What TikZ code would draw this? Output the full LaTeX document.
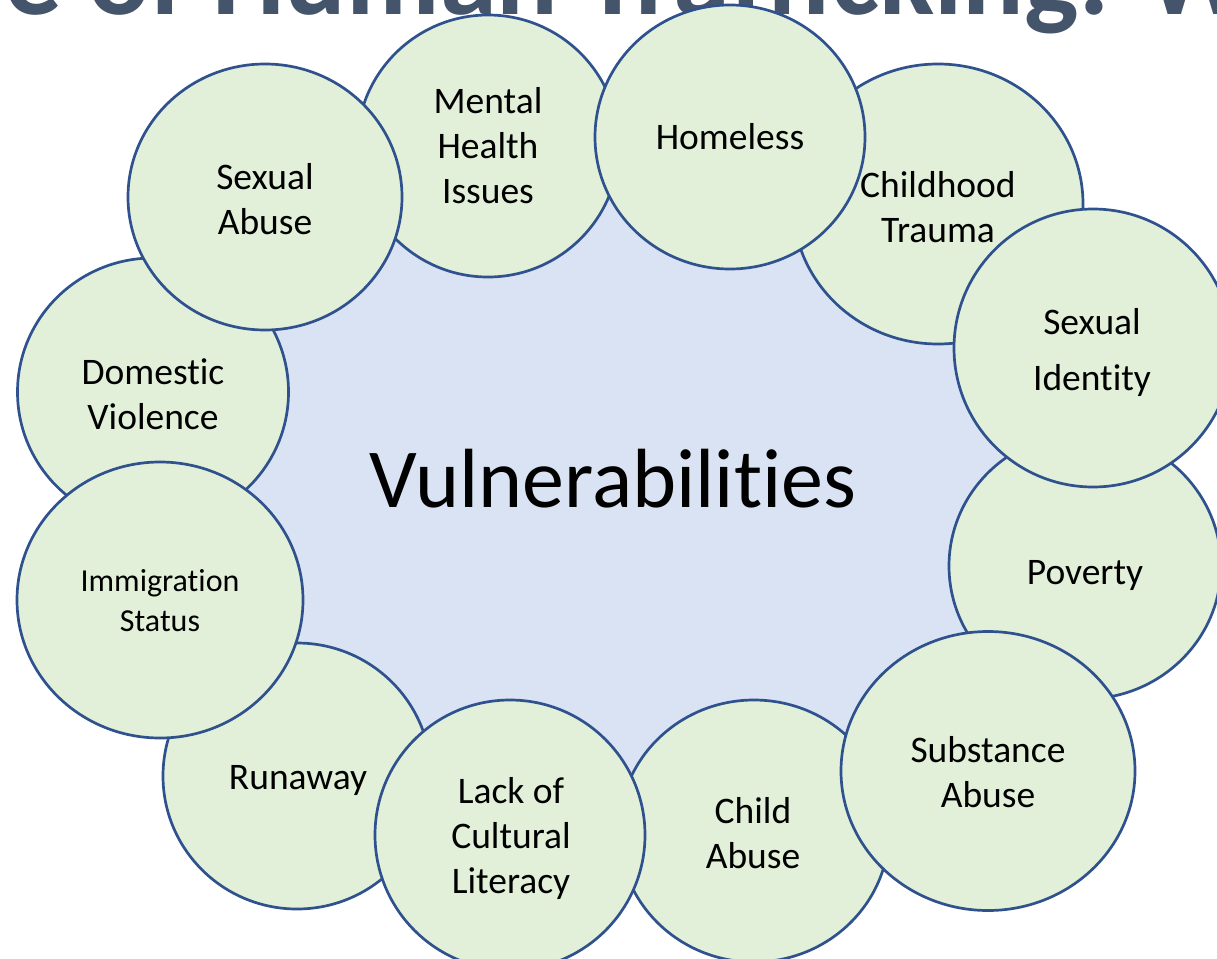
\documentclass[tikz,border=0pt]{standalone}
\usepackage{fontspec}
\setmainfont{Carlito}[Ligatures=NoCommon]
\usetikzlibrary{shapes.geometric}
\definecolor{ringline}{HTML}{2F528F}
\definecolor{ringfill}{HTML}{E2F0D9}
\definecolor{corefill}{HTML}{DAE3F3}
\definecolor{titlecol}{HTML}{44546A}
\begin{document}
\begin{tikzpicture}[x=1pt,y=-1pt,
  bubble/.style={ellipse, draw=ringline, line width=2.7pt, fill=ringfill, inner sep=0pt},
  lbl/.style={align=center, inner sep=0pt, font=\fontsize{37.5}{45}\selectfont},
  core/.style={ellipse, fill=corefill, inner sep=0pt},
  titletext/.style={font=\bfseries\fontsize{115}{120}\selectfont, text=titlecol, inner sep=0pt, anchor=base west}
]
\useasboundingbox (0,0) rectangle (1217,958);
\clip (0,0) rectangle (1217,958);
\fill[white] (0,0) rectangle (1217,958);

\node[titletext] (title) at (4,15) {e of Human Trafficking: What};

\node[core, minimum width=840pt, minimum height=640pt] (center) at (612,480) {};

% back ring
\node[bubble, minimum width=262pt, minimum height=262pt] (mental) at (488,146) {};
\node[bubble, minimum width=290pt, minimum height=280pt] (trauma) at (938,204) {};
\node[bubble, minimum width=272pt, minimum height=266pt] (poverty) at (1085,566) {};
\node[bubble, minimum width=270pt, minimum height=262pt] (child) at (754,831) {};
\node[bubble, minimum width=268pt, minimum height=266pt] (runaway) at (297,776) {};
\node[bubble, minimum width=271pt, minimum height=268pt] (domestic) at (153,392) {};

% front ring
\node[bubble, minimum width=274pt, minimum height=266pt] (sexabuse) at (265,197) {};
\node[bubble, minimum width=270pt, minimum height=264pt] (homeless) at (730,137) {};
\node[bubble, minimum width=278pt, minimum height=278pt] (identity) at (1093,348) {};
\node[bubble, minimum width=294pt, minimum height=279pt] (substance) at (988,771) {};
\node[bubble, minimum width=270pt, minimum height=270pt] (literacy) at (510,835) {};
\node[bubble, minimum width=286pt, minimum height=276pt] (immig) at (160,600) {};

% labels
\node[lbl] (mentalT) at (488,146) {Mental\\Health\\Issues};
\node[lbl] (traumaT) at (938,207) {Childhood\\Trauma};
\node[lbl] (povertyT) at (1085,575) {Poverty};
\node[lbl] (childT) at (753,833) {Child\\Abuse};
\node[lbl] (runawayT) at (298,780) {Runaway};
\node[lbl] (domesticT) at (153,394) {Domestic\\Violence};
\node[lbl] (sexabuseT) at (265,199) {Sexual\\Abuse};
\node[lbl] (homelessT) at (730,137) {Homeless};
\node[lbl, font=\fontsize{37.5}{56}\selectfont] (identityT) at (1092,352) {Sexual\\Identity};
\node[lbl] (substanceT) at (988,772) {Substance\\Abuse};
\node[lbl] (literacyT) at (511,838) {Lack of\\Cultural\\Literacy};
\node[lbl, font=\fontsize{32}{40}\selectfont] (immigT) at (160,601) {Immigration\\Status};

\node[font=\fontsize{84}{90}\selectfont, inner sep=0pt] (vuln) at (613,479) {Vulnerabilities};
\end{tikzpicture}
\end{document}
